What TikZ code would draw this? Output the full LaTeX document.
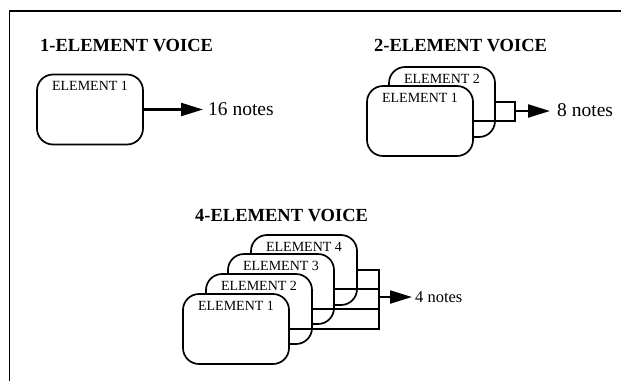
\documentclass[tikz,border=0pt]{standalone}
\usepackage{fontspec}
\setmainfont{Liberation Serif}
\usetikzlibrary{arrows.meta}
\begin{document}
\begin{tikzpicture}[x=1pt,y=-1pt,
  elem/.style={draw, line width=1.7pt, rounded corners=16pt, fill=white,
    minimum width=106pt, minimum height=70pt, inner sep=0pt},
  elabel/.style={font=\fontsize{14}{15}\selectfont, inner sep=0pt, anchor=base},
  title/.style={font=\bfseries\fontsize{18.5}{20}\selectfont, inner sep=0pt, anchor=base west},
  notes/.style={font=\fontsize{19.5}{21}\selectfont, inner sep=0pt, anchor=base west},
  wire/.style={line width=2.2pt},
  feed/.style={line width=2.2pt, -{Triangle[length=22pt,width=13pt]}},
  frameline/.style={line width=1.6pt}]
\useasboundingbox (0,0) rectangle (621,381);
\draw[frameline] (9.5,381) -- (9.5,11) -- (621,11);

% 1-element voice
\node[title] (t1) at (40,51) {1-ELEMENT VOICE};
\node[elem] (e1) at (90,109.5) {};
\node[elabel] (l1) at ([yshift=-17pt]e1.north) {ELEMENT 1};
\node[notes] (n1) at (208,115) {16 notes};
\draw[feed, shorten >=5pt] (e1.east) -- (e1.east -| n1.west);

% 2-element voice
\node[title] (t2) at (374,51) {2-ELEMENT VOICE};
\node[elem] (e22) at (442,102) {};
\node[elabel] (l22) at ([yshift=-17pt]e22.north) {ELEMENT 2};
\node[elem] (e21) at (420,121) {};
\node[elabel] (l21) at ([yshift=-17pt]e21.north) {ELEMENT 1};
\coordinate (b2) at (515,111);
\node[notes] (n2) at (557,116) {8 notes};
\draw[wire] (e22.east) -- (e22.east -| b2) -- (e21.east -| b2) -- (e21.east);
\draw[feed, shorten >=7pt] (b2) -- (b2 -| n2.west);

% 4-element voice
\node[title] (t4) at (195,221) {4-ELEMENT VOICE};
\node[elem] (e44) at (304,270) {};
\node[elabel] (l44) at ([yshift=-17pt]e44.north) {ELEMENT 4};
\node[elem] (e43) at (281,289) {};
\node[elabel] (l43) at ([yshift=-17pt]e43.north) {ELEMENT 3};
\node[elem] (e42) at (259,309) {};
\node[elabel] (l42) at ([yshift=-17pt]e42.north) {ELEMENT 2};
\node[elem] (e41) at (236,329) {};
\node[elabel] (l41) at ([yshift=-17pt]e41.north) {ELEMENT 1};
\coordinate (b4) at (379,297);
\node[notes, font=\fontsize{16.5}{18}\selectfont] (n4) at (415,302) {4 notes};
\draw[wire] (e44.east) -- (e44.east -| b4) -- (e41.east -| b4) -- (e41.east);
\draw[wire] (e43.east) -- (e43.east -| b4);
\draw[wire] (e42.east) -- (e42.east -| b4);
\draw[feed, shorten >=3pt] (b4) -- (b4 -| n4.west);
\end{tikzpicture}
\end{document}
